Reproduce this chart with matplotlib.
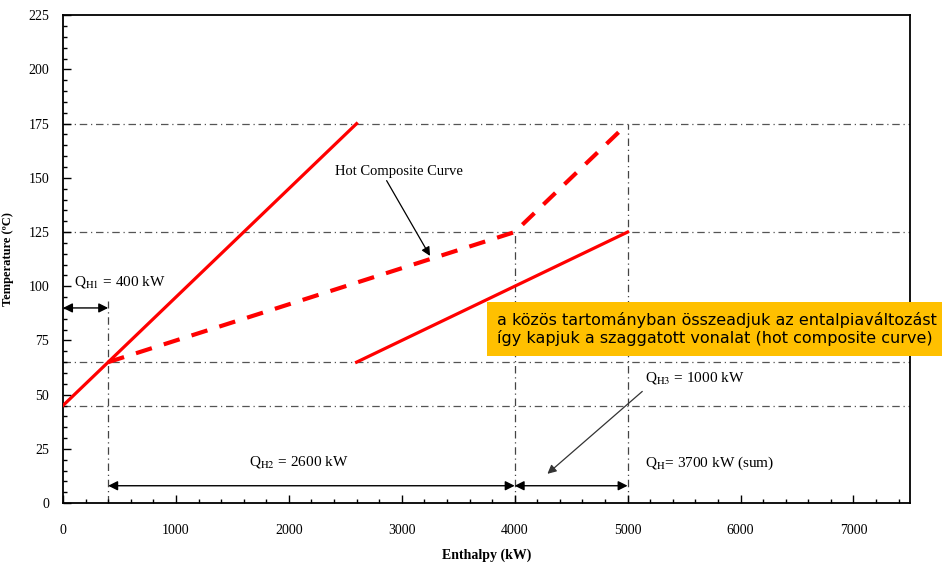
import matplotlib.pyplot as plt
from matplotlib.patches import Rectangle
from matplotlib.ticker import MultipleLocator

plt.rcParams['font.family'] = ['Liberation Serif', 'DejaVu Serif']
plt.rcParams['mathtext.fontset'] = 'stix'

# hot streams (enthalpy kW, temperature C)
stream1_h = [0, 2600]
stream1_t = [45, 175]
stream2_h = [2600, 5000]
stream2_t = [65, 125]
# hot composite curve (dashed)
comp_h = [400, 4000, 5000]
comp_t = [65, 125, 175]

# guide lines
hlines_t = [45, 65, 125, 175]
vlines_h = [400, 4000, 5000]
vlines_top = [93, 125, 175]

fig = plt.figure(figsize=(9.42, 5.64), dpi=100)
ax = fig.add_axes([0.0669, 0.108, 0.899, 0.865])

for t in hlines_t:
    ax.plot([0, 7500], [t, t], color='#555555', lw=0.9, ls=(0, (6, 3, 1, 3)), zorder=1)
for h, top in zip(vlines_h, vlines_top):
    ax.plot([h, h], [0, top], color='#444444', lw=0.9, ls=(0, (6, 3, 1, 3)), zorder=1)

ax.plot(stream1_h, stream1_t, color='#ff0000', lw=2.3, zorder=3)
ax.plot(stream2_h, stream2_t, color='#ff0000', lw=2.3, zorder=3)
ax.plot(comp_h, comp_t, color='#ff0000', lw=3, ls=(0, (4, 3)), zorder=3)

arrow = dict(arrowstyle='<|-|>', color='black', lw=1.0, mutation_scale=14, shrinkA=0, shrinkB=0)
ax.annotate('', xy=(0, 90), xytext=(400, 90), arrowprops=arrow)
ax.annotate('', xy=(400, 8), xytext=(4000, 8), arrowprops=arrow)
ax.annotate('', xy=(4000, 8), xytext=(5000, 8), arrowprops=arrow)

ax.text(100, 102, r'Q$_{\mathrm{H1}}$ = 400 kW', fontsize=11, va='center')
ax.text(1650, 19, r'Q$_{\mathrm{H2}}$ = 2600 kW', fontsize=11, va='center')
ax.text(5150, 57.5, r'Q$_{\mathrm{H3}}$ = 1000 kW', fontsize=11, va='center')
ax.text(5150, 18.5, r'Q$_{\mathrm{H}}$= 3700 kW (sum)', fontsize=11, va='center')

ax.annotate('Hot Composite Curve', xy=(3250, 114), xytext=(2410, 153),
            fontsize=10.5, va='center',
            arrowprops=dict(arrowstyle='-|>', color='black', lw=0.9,
                            mutation_scale=13, shrinkA=0, shrinkB=0,
                            relpos=(0.39, 0.0)))
ax.annotate('', xy=(4290, 13.5), xytext=(5130, 51.5),
            arrowprops=dict(arrowstyle='-|>', color='#333333', lw=0.9,
                            mutation_scale=13, shrinkA=0, shrinkB=0))

ax.set_xlim(0, 7500)
ax.set_ylim(0, 225)
ax.xaxis.set_major_locator(MultipleLocator(1000))
ax.xaxis.set_minor_locator(MultipleLocator(200))
ax.yaxis.set_major_locator(MultipleLocator(25))
ax.yaxis.set_minor_locator(MultipleLocator(5))
ax.tick_params(which='both', direction='in', labelsize=10, width=1.0)
ax.tick_params(axis='x', which='major', length=6, pad=15)
ax.tick_params(axis='y', which='major', length=6, pad=10)
ax.tick_params(which='minor', length=3)
for s in ax.spines.values():
    s.set_linewidth(1.3)

ax.set_xlabel('Enthalpy (kW)', fontsize=10, fontweight='bold', labelpad=8)
ax.set_ylabel('Temperature (ºC)', fontsize=9, fontweight='bold', labelpad=10)

# highlighted note box
fig.patches.append(Rectangle((487 / 942, 1 - 356 / 564), 455 / 942, 54 / 564,
                             transform=fig.transFigure, facecolor='#ffc000',
                             edgecolor='none', zorder=5))
fig.text(497 / 942, 1 - 329 / 564,
         'a közös tartományban összeadjuk az entalpiaváltozást\n'
         'így kapjuk a szaggatott vonalat (hot composite curve)',
         fontsize=11.5, family=['DejaVu Sans'], va='center', ha='left',
         linespacing=1.15, zorder=6)

fig.savefig('out.png', dpi=100)
